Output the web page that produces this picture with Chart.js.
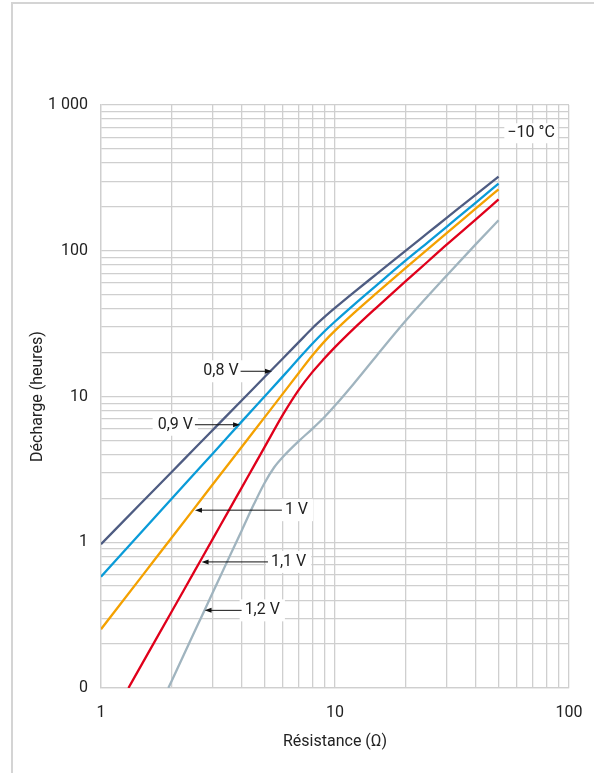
<!DOCTYPE html>
<html>
<head>
<meta charset="utf-8">
<script src="https://cdn.jsdelivr.net/npm/chart.js@4.4.1/dist/chart.umd.min.js"></script>
<style>
  html, body { margin: 0; padding: 0; background: #fff; }
  #frame { position: absolute; left: 11px; top: 2px; width: 583px; height: 771px;
           border-left: 2px solid #d4d4d4; border-top: 2px solid #d4d4d4; }
  #wrap { position: absolute; left: 0; top: 0; width: 594px; height: 773px; }
</style>
</head>
<body>
<div id="frame"></div>
<div id="wrap"><canvas id="discharge"></canvas></div>
<script>
// Résistance (ohm) / décharge (heures), -10 °C
const r08 = [1, 1.5, 2, 2.5, 3, 4, 5, 6, 7, 8, 9, 10, 12, 15, 20, 25, 30, 40, 50];
const h08 = [0.97, 1.89, 3.02, 4.36, 5.88, 9.42, 13.6, 18.3, 23.6, 29.4, 35.0, 40.5, 51.6, 68.9, 99.9, 133, 168, 243, 323];

const r09 = [1, 1.5, 2, 2.5, 3, 4, 5, 6, 7, 8, 9, 10, 12, 15, 20, 25, 30, 40, 50];
const h09 = [0.58, 1.19, 1.98, 2.94, 4.05, 6.75, 10.0, 13.8, 18.2, 23.0, 27.9, 32.7, 42.4, 57.7, 85.5, 114.6, 146, 214, 289];

const r10 = [1, 1.5, 2, 2.5, 3, 4, 5, 6, 7, 8, 9, 10, 12, 15, 20, 25, 30, 40, 50];
const h10 = [0.253, 0.588, 1.07, 1.70, 2.49, 4.52, 7.19, 10.5, 14.5, 19.1, 23.8, 28.3, 37.2, 51.0, 75.9, 103, 132, 195, 264];

const r11 = [1.31, 1.5, 2, 2.5, 3, 3.5, 4, 4.5, 5, 6, 7, 8, 9, 10, 12, 15, 20, 25, 30, 40, 50];
const h11 = [0.1, 0.147, 0.332, 0.626, 1.05, 1.63, 2.38, 3.33, 4.49, 7.53, 11.1, 14.7, 18.2, 21.8, 29.1, 40.6, 61.7, 84.7, 110, 164, 225];

const r12 = [1.94, 2, 2.5, 3, 3.5, 4, 4.5, 5, 5.5, 6, 7, 8, 9, 10, 12, 15, 20, 25, 30, 40, 50];
const h12 = [0.1, 0.111, 0.24, 0.45, 0.766, 1.21, 1.82, 2.55, 3.27, 3.86, 4.94, 6.0, 7.2, 8.66, 12.2, 18.9, 32.9, 49.1, 67.5, 111, 162];

// tick labels (decades only)
const xDecades = [1, 10, 100];
const xDecadeLabels = ['1', '10', '100'];
const yDecades = [0.1, 1, 10, 100, 1000];
const yDecadeLabels = ['0', '1', '10', '100', '1 000'];

// callouts: text, arrow tip (on curve), where the arrow starts, which side the text sits
const calloutText = ['0,8 V', '0,9 V', '1 V', '1,1 V', '1,2 V'];
const calloutTipR = [5.38, 3.93, 2.52, 2.69, 2.77];
const calloutTipH = [14.9, 6.4, 1.66, 0.733, 0.341];
const calloutFromR = [3.95, 2.52, 5.93, 5.17, 3.99];
const calloutSide = ['left', 'left', 'right', 'right', 'right'];

const tempLabel = '\u221210 \u00b0C';
const tempR = 54.5;
const tempH = 640;

const gridColor = '#cfcfcf';
const textColor = '#222';
const font = 'Roboto';

function zip(xs, ys) {
  return xs.map((v, i) => ({x: v, y: ys[i]}));
}

function logGrid(min, max) {
  const out = [];
  for (let d = min; d < max * 0.999; d *= 10) {
    for (let k = 1; k < 10; k++) out.push(+(d * k).toPrecision(6));
  }
  out.push(max);
  return out.map(v => ({value: v}));
}

function decadeLabel(v, decades, labels) {
  const i = decades.findIndex(d => Math.abs(v / d - 1) < 1e-6);
  return i < 0 ? '' : labels[i];
}

function line(label, xs, ys, color) {
  return {
    label,
    data: zip(xs, ys),
    borderColor: color,
    borderWidth: 2.3,
    pointRadius: 0,
    cubicInterpolationMode: 'monotone',
    fill: false
  };
}

// white boxes under the labels, then text + arrows over the curves
const callouts = {
  id: 'callouts',
  beforeDatasetsDraw(chart) {
    const {ctx, scales: {x, y}} = chart;
    ctx.save();
    ctx.font = '16px ' + font;
    ctx.fillStyle = '#fff';
    calloutText.forEach((txt, i) => {
      const ty = y.getPixelForValue(calloutTipH[i]);
      const sx = x.getPixelForValue(calloutFromR[i]);
      const w = ctx.measureText(txt).width;
      const tx0 = calloutSide[i] === 'left' ? sx - w - 2 : sx + 3;
      ctx.fillRect(tx0 - 5, ty - 11, w + 10, 22);
    });
    const w = ctx.measureText(tempLabel).width;
    ctx.fillRect(x.getPixelForValue(tempR) - 3, y.getPixelForValue(tempH) - 10, w + 6, 20);
    ctx.restore();
  },
  afterDatasetsDraw(chart) {
    const {ctx, scales: {x, y}} = chart;
    ctx.save();
    ctx.font = '16px ' + font;
    ctx.textBaseline = 'middle';
    ctx.fillStyle = textColor;
    ctx.strokeStyle = '#111';
    ctx.lineWidth = 1;
    calloutText.forEach((txt, i) => {
      const tx = x.getPixelForValue(calloutTipR[i]);
      const ty = y.getPixelForValue(calloutTipH[i]);
      const sx = x.getPixelForValue(calloutFromR[i]);
      const w = ctx.measureText(txt).width;
      const left = calloutSide[i] === 'left';
      ctx.textAlign = 'left';
      ctx.fillText(txt, left ? sx - w - 2 : sx + 3, ty);
      const dir = tx > sx ? 1 : -1;
      ctx.beginPath();
      ctx.moveTo(sx, ty);
      ctx.lineTo(tx - dir * 6, ty);
      ctx.stroke();
      ctx.beginPath();
      ctx.moveTo(tx, ty);
      ctx.lineTo(tx - dir * 7, ty - 2.5);
      ctx.lineTo(tx - dir * 7, ty + 2.5);
      ctx.closePath();
      ctx.fillStyle = '#111';
      ctx.fill();
      ctx.fillStyle = textColor;
    });
    ctx.textAlign = 'left';
    ctx.fillText(tempLabel, x.getPixelForValue(tempR), y.getPixelForValue(tempH));
    ctx.restore();
  }
};

const config = {
  type: 'line',
  data: {
    datasets: [
      line('0,8 V', r08, h08, '#4e5c82'),
      line('0,9 V', r09, h09, '#0a9bd8'),
      line('1 V', r10, h10, '#f4a100'),
      line('1,1 V', r11, h11, '#e0001b'),
      line('1,2 V', r12, h12, '#a0b4bf')
    ]
  },
  options: {
    responsive: true,
    maintainAspectRatio: false,
    animation: false,
    layout: {padding: {top: 105, right: 25, left: 0, bottom: 0}},
    plugins: {legend: {display: false}, tooltip: {enabled: false}},
    scales: {
      x: {
        type: 'logarithmic',
        min: 1,
        max: 100,
        afterBuildTicks: (s) => { s.ticks = logGrid(1, 100); },
        afterFit: (s) => { s.height = 85; },
        // invisible tick marks push the labels down without widening the side padding
        grid: {color: gridColor, lineWidth: 1.3, drawTicks: true, tickLength: 15, tickColor: 'rgba(0,0,0,0)'},
        border: {color: gridColor, width: 1.3},
        ticks: {
          autoSkip: false,
          maxRotation: 0,
          padding: 0,
          color: textColor,
          font: {family: font, size: 16},
          callback: (v) => decadeLabel(v, xDecades, xDecadeLabels)
        },
        title: {
          display: true,
          text: 'Résistance (Ω)',
          color: textColor,
          font: {family: font, size: 16},
          padding: {top: 0, bottom: 21}
        }
      },
      y: {
        type: 'logarithmic',
        min: 0.1,
        max: 1000,
        afterBuildTicks: (s) => { s.ticks = logGrid(0.1, 1000); },
        afterFit: (s) => { s.width = 101; },
        grid: {color: gridColor, lineWidth: 1.3, drawTicks: false},
        border: {color: gridColor, width: 1.3},
        ticks: {
          autoSkip: false,
          padding: 13,
          color: textColor,
          font: {family: font, size: 16},
          callback: (v) => decadeLabel(v, yDecades, yDecadeLabels)
        },
        title: {
          display: true,
          text: 'Décharge (heures)',
          color: textColor,
          font: {family: font, size: 16},
          padding: {top: 28, bottom: 0}
        }
      }
    }
  },
  plugins: [callouts]
};

const dischargeChart = new Chart(document.getElementById('discharge'), config);
</script>
</body>
</html>
